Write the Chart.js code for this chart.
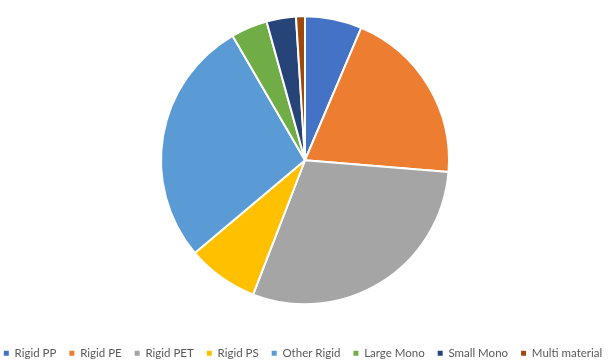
<!DOCTYPE html>
<html lang="en">
<head>
<meta charset="UTF-8">
<script src="https://cdn.jsdelivr.net/npm/chart.js@4.4.1/dist/chart.umd.min.js"></script>
<title>Packaging pie</title>
<style>
  html, body { margin: 0; padding: 0; background: #fff; overflow: hidden; }
  /* canvas a bit taller and pulled up so the pie sits where the original has it */
  #wrap { width: 610px; height: 375px; margin-top: -14px; }
</style>
</head>
<body>
<div id="wrap"><canvas id="myChart"></canvas></div>
<script>
// shares (percent)
const categories = ['Rigid PP', 'Rigid PE', 'Rigid PET', 'Rigid PS', 'Other Rigid', 'Large Mono', 'Small Mono', 'Multi material'];
const shares = [6.4, 19.9, 29.6, 8.0, 27.75, 4.1, 3.3, 1.0];
const colours = ['#4472C4', '#ED7D31', '#A5A5A5', '#FFC000', '#5B9BD5', '#70AD47', '#264478', '#9E480E'];

const baseLabels = Chart.DoughnutController.overrides.plugins.legend.labels.generateLabels;

const ctx = document.getElementById('myChart').getContext('2d');
const myChart = new Chart(ctx, {
    type: 'pie',
    data: {
        labels: categories,
        datasets: [{
            data: shares,
            backgroundColor: colours,
            borderColor: '#ffffff',
            borderWidth: 2
        }]
    },
    options: {
        responsive: true,
        maintainAspectRatio: false,
        animation: false,
        radius: 144,
        // negative sides give the legend room for one row
        layout: {
            padding: { top: 0, bottom: -8, left: -20, right: -16 }
        },
        plugins: {
            tooltip: { enabled: false },
            legend: {
                position: 'bottom',
                labels: {
                    boxWidth: 5,
                    boxHeight: 5,
                    padding: 13,
                    color: '#595959',
                    font: { family: 'Lato', size: 11.5 },
                    // solid little squares, no white slice border
                    generateLabels(chart) {
                        const items = baseLabels(chart);
                        items.forEach(it => { it.lineWidth = 0; it.strokeStyle = it.fillStyle; });
                        return items;
                    }
                }
            }
        }
    }
});
</script>
</body>
</html>
